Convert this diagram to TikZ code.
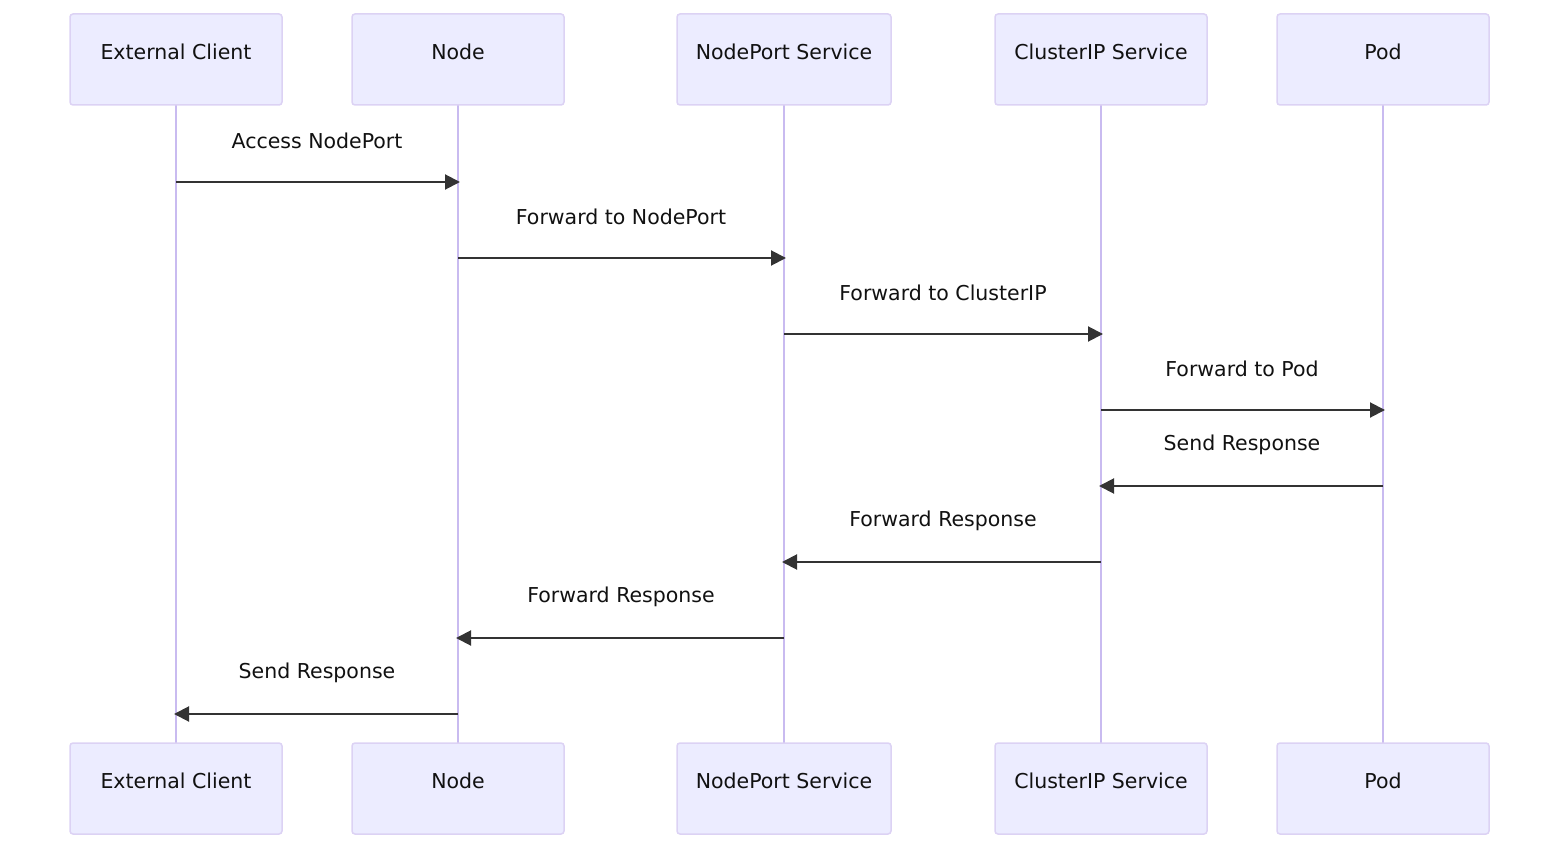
\documentclass[tikz,border=0pt]{standalone}
\usepackage{fontspec}
\setmainfont{DejaVu Sans}
\usetikzlibrary{arrows.meta}
\definecolor{actfill}{HTML}{ECECFF}
\definecolor{actborder}{HTML}{DCD2F4}
\definecolor{lifeln}{HTML}{C9BBF0}
\definecolor{msgcol}{HTML}{333333}
\definecolor{txtcol}{HTML}{111111}
\tikzset{
  actor/.style={draw=actborder, fill=actfill, line width=1.5pt, rounded corners=3pt,
    minimum height=91pt, inner sep=0pt},
  actortext/.style={font=\fontsize{20.5}{24}\selectfont, text=txtcol, inner sep=0pt},
  lifeline/.style={draw=lifeln, line width=1.6pt},
  msg/.style={draw=msgcol, line width=2pt, shorten >=-2pt, -{Triangle[length=15pt,width=15pt]}},
  msglabel/.style={font=\fontsize{20.5}{24}\selectfont, text=txtcol, inner sep=0pt},
}
\begin{document}
\begin{tikzpicture}[x=1pt,y=-1pt]
\useasboundingbox (0,0) rectangle (1560,850);
% lifelines
\foreach \x/\n in {176/a,458/b,784/c,1101/d,1383/e}{
  \coordinate (t\n) at (\x,105);
  \coordinate (u\n) at (\x,743);
  \draw[lifeline] (t\n) -- (u\n);
}
% top actors
\node[actor, minimum width=212pt] (A1) at (176,59.5) {};
\node[actor, minimum width=212pt] (B1) at (458,59.5) {};
\node[actor, minimum width=214pt] (C1) at (784,59.5) {};
\node[actor, minimum width=212pt] (D1) at (1101,59.5) {};
\node[actor, minimum width=212pt] (E1) at (1383,59.5) {};
\node[actortext] (A1t) at (176,52) {External Client};
\node[actortext] (B1t) at (458,52) {Node};
\node[actortext] (C1t) at (784,52) {NodePort Service};
\node[actortext] (D1t) at (1101,52) {ClusterIP Service};
\node[actortext] (E1t) at (1383,52) {Pod};
% bottom actors
\node[actor, minimum width=212pt] (A2) at (176,788.5) {};
\node[actor, minimum width=212pt] (B2) at (458,788.5) {};
\node[actor, minimum width=214pt] (C2) at (784,788.5) {};
\node[actor, minimum width=212pt] (D2) at (1101,788.5) {};
\node[actor, minimum width=212pt] (E2) at (1383,788.5) {};
\node[actortext] (A2t) at (176,781) {External Client};
\node[actortext] (B2t) at (458,781) {Node};
\node[actortext] (C2t) at (784,781) {NodePort Service};
\node[actortext] (D2t) at (1101,781) {ClusterIP Service};
\node[actortext] (E2t) at (1383,781) {Pod};
% message anchor points
\foreach \n/\x in {a/176,b/458,c/784,d/1101,e/1383}{
  \foreach \i/\y in {1/182,2/258,3/334,4/410,5/486,6/562,7/638,8/714}{
    \coordinate (\n\i) at (\x,\y);
  }
}
% messages
\draw[msg] (a1) -- (b1);
\node[msglabel] (l1) at (317,141) {Access NodePort};
\draw[msg] (b2) -- (c2);
\node[msglabel] (l2) at (621,217) {Forward to NodePort};
\draw[msg] (c3) -- (d3);
\node[msglabel] (l3) at (943,293) {Forward to ClusterIP};
\draw[msg] (d4) -- (e4);
\node[msglabel] (l4) at (1242,369) {Forward to Pod};
\draw[msg] (e5) -- (d5);
\node[msglabel] (l5) at (1242,445) {Send Response};
\draw[msg] (d6) -- (c6);
\node[msglabel] (l6) at (943,521) {Forward Response};
\draw[msg] (c7) -- (b7);
\node[msglabel] (l7) at (621,597) {Forward Response};
\draw[msg] (b8) -- (a8);
\node[msglabel] (l8) at (317,673) {Send Response};
\end{tikzpicture}
\end{document}
